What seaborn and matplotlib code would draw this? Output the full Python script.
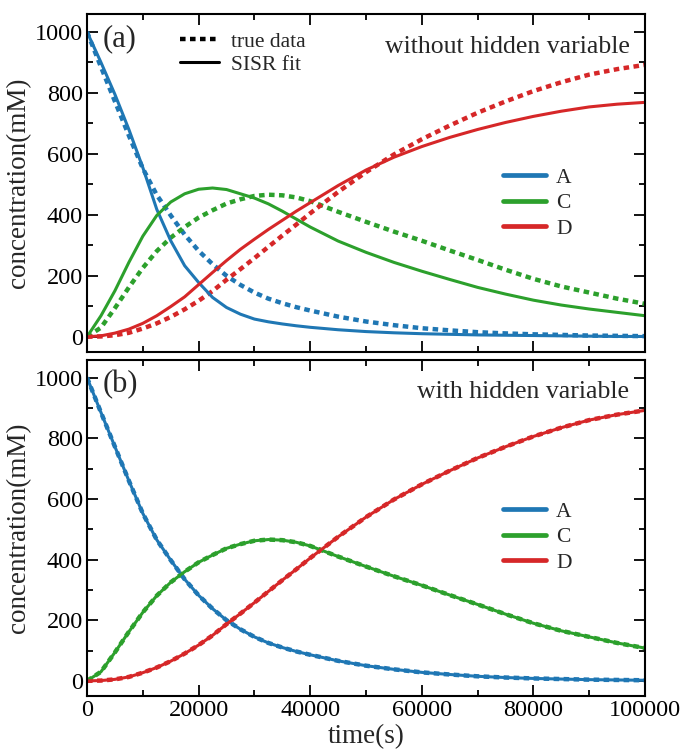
import numpy as np
import pandas as pd
import matplotlib
matplotlib.use("Agg")
import matplotlib.pyplot as plt
from matplotlib.lines import Line2D
from matplotlib.ticker import MultipleLocator
import seaborn as sns

# ---------------- data ----------------
time_s = [0, 2500, 5000, 7500, 10000, 12500, 15000, 17500, 20000, 22500,
          25000, 27500, 30000, 32500, 35000, 37500, 40000, 45000, 50000,
          55000, 60000, 65000, 70000, 75000, 80000, 85000, 90000, 95000, 100000]

true_A = [1000, 885, 772, 660, 552, 465, 398, 335, 282, 238,
          200, 170, 145, 125, 110, 97, 86, 66, 50,
          38, 28, 21, 15, 11, 8, 6, 4, 3, 2]
true_C = [0, 30, 94, 162, 226, 281, 325, 360, 391, 415,
          437, 451, 462, 466, 464, 457, 445, 410, 377,
          345, 315, 283, 252, 220, 190, 165, 145, 125, 108]
true_D = [0, 1, 5, 13, 27, 44, 65, 90, 118, 150,
          187, 222, 258, 295, 332, 368, 405, 475, 540,
          598, 648, 693, 735, 772, 806, 835, 860, 878, 892]

# SISR fit without hidden variable (panel a)
fit_a_A = [1000, 900, 795, 680, 555, 418, 315, 233, 178, 129,
           96, 74, 58, 49, 42, 36, 31, 23, 17,
           13, 10, 8, 6, 5, 4, 3, 2, 1, 1]
fit_a_C = [0, 69, 151, 244, 330, 398, 442, 469, 484, 488,
           483, 469, 455, 436, 412, 386, 360, 314, 277,
           244, 215, 188, 162, 140, 120, 104, 91, 80, 69]
fit_a_D = [0, 3, 12, 25, 44, 69, 99, 131, 171, 211,
           250, 287, 320, 352, 382, 412, 440, 496, 547,
           589, 624, 654, 680, 703, 723, 740, 754, 763, 769]

# SISR fit with hidden variable (panel b) coincides with the true data
fit_b_A = list(true_A)
fit_b_C = list(true_C)
fit_b_D = list(true_D)

species = ["A", "C", "D"]
colors = {"A": "#1f77b4", "C": "#2ca02c", "D": "#d62728"}

# ---------------- style ----------------
sns.set_theme(style="ticks")
plt.rcParams["font.family"] = ["Liberation Serif", "DejaVu Serif"]

fig = plt.figure(figsize=(6.88, 7.51), dpi=100)
ax1 = fig.add_axes([0.1265, 0.5313, 0.811, 0.4497])
ax2 = fig.add_axes([0.1265, 0.0732, 0.811, 0.4474], sharex=ax1)

dash_style = (0, (1.25, 1.0))
lw_true = 3.2
lw_fit = 2.2

panels = [
    (ax1, {"A": true_A, "C": true_C, "D": true_D},
     {"A": fit_a_A, "C": fit_a_C, "D": fit_a_D}, "(a)", "without hidden variable", 0.578),
    (ax2, {"A": true_A, "C": true_C, "D": true_D},
     {"A": fit_b_A, "C": fit_b_C, "D": fit_b_D}, "(b)", "with hidden variable", 0.61),
]

for ax, truth, fit, tag, title, leg_y in panels:
    for sp in species:
        sns.lineplot(x=time_s, y=truth[sp], ax=ax, color=colors[sp],
                     linewidth=lw_true, linestyle=dash_style, sort=False)
    for sp in species:
        sns.lineplot(x=time_s, y=fit[sp], ax=ax, color=colors[sp],
                     linewidth=lw_fit, sort=False)

    ax.set_xlim(0, 100000)
    ax.set_ylim(-50, 1058)
    ax.xaxis.set_major_locator(MultipleLocator(20000))
    ax.xaxis.set_minor_locator(MultipleLocator(10000))
    ax.yaxis.set_major_locator(MultipleLocator(200))
    ax.yaxis.set_minor_locator(MultipleLocator(100))
    ax.tick_params(which="both", direction="in", top=True, right=True,
                   width=1.3, colors="black", labelsize=17.5, pad=3)
    ax.tick_params(which="major", length=8)
    ax.tick_params(which="minor", length=4.5)
    for s in ax.spines.values():
        s.set_linewidth(1.5)
        s.set_color("black")
    ax.set_ylabel("concentration(mM)", fontsize=19.5)

    ax.text(0.028, 0.97, tag, transform=ax.transAxes, fontsize=22,
            ha="left", va="top")
    ax.text(0.972, 0.937, title, transform=ax.transAxes, fontsize=18.5,
            ha="right", va="top")

    handles = [Line2D([], [], color=colors[sp], lw=3.4) for sp in species]
    leg = ax.legend(handles, species, loc="upper left",
                    bbox_to_anchor=(0.727, leg_y), frameon=False,
                    fontsize=15.5, handlelength=2.0, handletextpad=0.45,
                    labelspacing=0.25, borderpad=0)
    if ax is ax1:
        ax.add_artist(leg)
        style_handles = [Line2D([], [], color="black", lw=lw_true, linestyle=dash_style),
                         Line2D([], [], color="black", lw=lw_fit)]
        ax.legend(style_handles, ["true data", "SISR fit"], loc="upper left",
                  bbox_to_anchor=(0.148, 0.98), frameon=False,
                  fontsize=15.5, handlelength=1.8, handletextpad=0.55,
                  labelspacing=0.12, borderpad=0)

plt.setp(ax1.get_xticklabels(), visible=False)
ax1.set_xlabel("")
ax2.set_xlabel("time(s)", fontsize=19.5, labelpad=2)
for ax in (ax1, ax2):
    ax.yaxis.set_label_coords(-0.1, 0.5)

fig.savefig("out.png", dpi=100)
